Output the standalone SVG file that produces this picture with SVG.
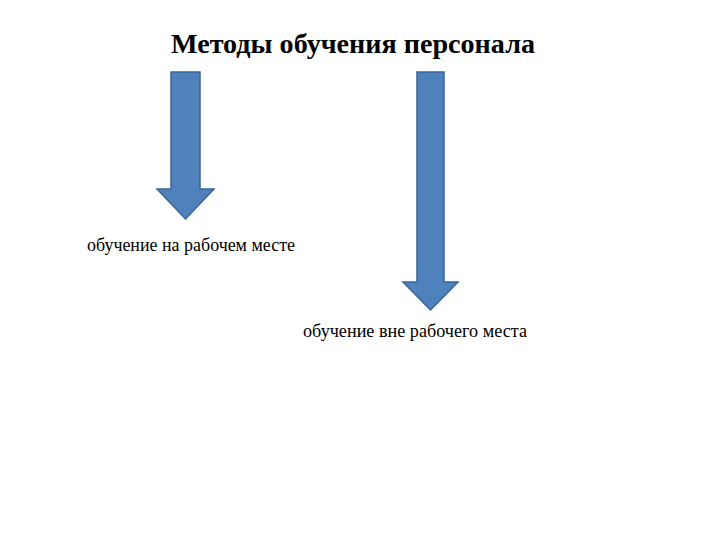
<svg xmlns="http://www.w3.org/2000/svg" width="720" height="540" viewBox="0 0 720 540">
<style>
.arrow{fill:#4f81bd;stroke:#3a6496;stroke-width:1.5;stroke-linejoin:miter}
.t{font-family:"Liberation Serif","Times New Roman",serif;fill:#000}
.title{font-size:27px;font-weight:bold}
.lbl{font-size:18px}
</style>
<rect width="720" height="540" fill="#fff"/>
<g id="title"><text class="t title" x="171" y="53" textLength="364" lengthAdjust="spacingAndGlyphs">Методы обучения персонала</text></g>
<g id="connectors">
<polygon class="arrow" points="171,72 200,72 200,189 214,189 185.5,219 157,189 171,189"/>
<polygon class="arrow" points="417,72 444,72 444,282 458,282 430.5,310 403,282 417,282"/>
</g>
<g id="node1"><text class="t lbl" x="87" y="251" textLength="208" lengthAdjust="spacingAndGlyphs">обучение на рабочем месте</text></g>
<g id="node2"><text class="t lbl" x="303" y="337" textLength="224" lengthAdjust="spacingAndGlyphs">обучение вне рабочего места</text></g>
</svg>
